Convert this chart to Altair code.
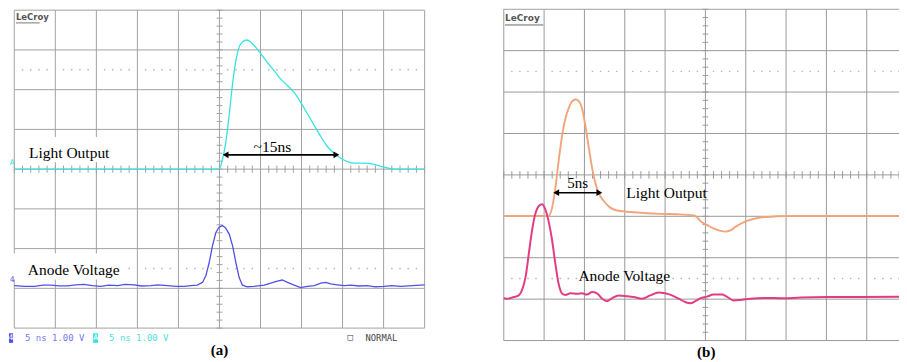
import altair as alt
import pandas as pd
import numpy as np

# ---------------- data (grid divisions: x 0..10, y -4..4) ----------------
a_light_x = [0, 4.99, 5.07, 5.15, 5.24, 5.32, 5.40, 5.48, 5.56, 5.67, 5.76, 5.88, 6.01, 6.17, 6.33,
             6.49, 6.66, 6.82, 6.98, 7.14, 7.31, 7.47, 7.63, 7.79, 7.95, 8.12, 8.28, 8.52, 8.77,
             8.93, 9.09, 9.25, 10]
a_light_y = [0, 0, 0.23, 0.65, 1.40, 2.15, 2.73, 3.07, 3.20, 3.25, 3.20, 3.07, 2.90, 2.68, 2.48,
             2.27, 2.10, 1.93, 1.68, 1.40, 1.10, 0.82, 0.57, 0.40, 0.28, 0.19, 0.15, 0.15, 0.12,
             0.07, 0.03, 0, 0]

a_anode_x = [0, 0.25, 0.49, 0.7, 0.89, 1.1, 1.30, 1.5, 1.70, 1.9, 2.11, 2.3, 2.52, 2.7, 2.92, 3.1,
             3.33, 3.5, 3.73, 3.95, 4.14, 4.3, 4.46, 4.59, 4.67, 4.75, 4.83, 4.91, 4.99, 5.07, 5.15,
             5.24, 5.32, 5.40, 5.48, 5.56, 5.68, 5.84, 6.09, 6.25, 6.41, 6.53, 6.66, 6.82, 6.98,
             7.14, 7.31, 7.47, 7.59, 7.71, 7.87, 8.05, 8.2, 8.4, 8.6, 8.8, 9.01, 9.2, 9.42, 9.7, 10]
a_anode_y = [-2.93, -2.95, -2.95, -2.92, -2.92, -2.94, -2.94, -2.91, -2.90, -2.93, -2.95, -2.92,
             -2.93, -2.90, -2.91, -2.94, -2.93, -2.91, -2.93, -2.95, -2.95, -2.93, -2.92, -2.85,
             -2.68, -2.35, -1.93, -1.60, -1.46, -1.42, -1.48, -1.64, -1.93, -2.35, -2.73, -2.92,
             -2.96, -2.95, -2.92, -2.87, -2.82, -2.79, -2.85, -2.92, -2.98, -2.95, -2.93, -2.87,
             -2.85, -2.89, -2.91, -2.93, -2.92, -2.94, -2.93, -2.96, -2.95, -2.93, -2.95, -2.93, -2.91]

b_light_x = [0, 0.58, 1.11, 1.20, 1.28, 1.36, 1.45, 1.53, 1.61, 1.69, 1.78, 1.86, 1.94, 2.02, 2.11,
             2.19, 2.27, 2.35, 2.48, 2.64, 2.81, 3.06, 3.47, 3.88, 4.29, 4.71, 4.79, 4.87, 5.04,
             5.20, 5.37, 5.49, 5.62, 5.78, 6.03, 6.36, 6.77, 7.18, 10.1]
b_light_y = [-0.99, -0.99, -0.99, -0.79, -0.31, 0.33, 0.97, 1.37, 1.61, 1.77, 1.82, 1.78, 1.61,
             1.21, 0.65, 0.17, -0.19, -0.43, -0.63, -0.79, -0.86, -0.89, -0.92, -0.94, -0.95,
             -0.98, -1.02, -1.11, -1.21, -1.29, -1.35, -1.37, -1.34, -1.23, -1.11, -1.03, -1.0,
             -0.99, -0.99]

b_anode_x = [0, 0.08, 0.25, 0.37, 0.45, 0.54, 0.62, 0.70, 0.78, 0.87, 0.95, 1.03, 1.11, 1.20, 1.28,
             1.36, 1.45, 1.53, 1.65, 1.82, 1.94, 2.06, 2.19, 2.31, 2.44, 2.56, 2.68, 2.85, 3.06,
             3.22, 3.43, 3.63, 3.84, 4.0, 4.17, 4.34, 4.50, 4.62, 4.75, 4.87, 5.04, 5.20, 5.41,
             5.53, 5.70, 5.86, 6.11, 6.52, 6.94, 7.35, 8.01, 8.84, 10.1]
b_anode_y = [-2.98, -2.99, -2.95, -2.91, -2.79, -2.47, -1.91, -1.35, -0.95, -0.75, -0.71, -0.83,
             -1.11, -1.59, -2.15, -2.63, -2.87, -2.90, -2.86, -2.87, -2.86, -2.89, -2.83, -2.86,
             -2.99, -3.05, -2.98, -2.91, -2.93, -2.95, -2.99, -2.91, -2.84, -2.86, -2.91, -2.99,
             -3.07, -3.10, -3.05, -2.98, -2.94, -2.89, -2.89, -2.94, -3.03, -3.02, -2.99, -2.97,
             -2.98, -2.96, -2.95, -2.95, -2.94]

# ---------------- layout ----------------
H = 346
WA, WB = 452, 439
xa = alt.Scale(domain=[-0.129, 10.874], nice=False, zero=False)
ya = alt.Scale(domain=[-4.647, 4.05], nice=False, zero=False)
xb = alt.Scale(domain=[-1.073, 9.80], nice=False, zero=False)
yb = alt.Scale(domain=[-4.32, 4.025], nice=False, zero=False)

SERIF = '"Liberation Serif", "Times New Roman", Times, serif'
MONO = '"DejaVu Sans Mono", monospace'


def enc(xs, ys, two=False):
    e = dict(x=alt.X("x:Q", scale=xs, axis=None), y=alt.Y("y:Q", scale=ys, axis=None))
    if two:
        e.update(x2=alt.X2("x2:Q"), y2=alt.Y2("y2:Q"))
    return e


def grid(xs, ys, color):
    rows = []
    for i in range(11):
        rows.append(dict(x=i, x2=i, y=-4, y2=4))
    for j in range(-4, 5):
        rows.append(dict(x=0, x2=10, y=j, y2=j))
    for k in np.arange(-4, 4.01, 0.2):
        rows.append(dict(x=4.93, x2=5.07, y=k, y2=k))
    for k in np.arange(0, 10.01, 0.2):
        rows.append(dict(x=k, x2=k, y=-0.09, y2=0.09))
    g = alt.Chart(pd.DataFrame(rows)).mark_rule(color=color, strokeWidth=1, clip=True).encode(
        **enc(xs, ys, True))
    dots = []
    for yy in (-2.5, 2.5):
        for k in np.arange(0, 10.01, 0.2):
            if abs(k - round(k)) > 0.05:
                dots.append(dict(x=k, y=yy))
    d = alt.Chart(pd.DataFrame(dots)).mark_square(color="#b4b4b4", size=2, opacity=1, clip=True).encode(
        **enc(xs, ys))
    return [g, d]


def trace(xs, ys, xv, yv, color, width, interp):
    df = pd.DataFrame({"x": xv, "y": yv, "o": range(len(xv))})
    return alt.Chart(df).mark_line(color=color, strokeWidth=width, interpolate=interp, clip=True).encode(
        **enc(xs, ys), order="o:Q")


def text(xs, ys, rows, **kw):
    return alt.Chart(pd.DataFrame(rows)).mark_text(**kw).encode(**enc(xs, ys), text="t:N")


def arrow(xs, ys, x0, x1, yv):
    r = alt.Chart(pd.DataFrame([dict(x=x0, x2=x1, y=yv, y2=yv)])).mark_rule(
        color="black", strokeWidth=1.6).encode(**enc(xs, ys, True))
    pl = alt.Chart(pd.DataFrame([dict(x=x0, y=yv)])).mark_point(
        shape="triangle-left", filled=True, color="black", size=45, opacity=1).encode(**enc(xs, ys))
    pr = alt.Chart(pd.DataFrame([dict(x=x1, y=yv)])).mark_point(
        shape="triangle-right", filled=True, color="black", size=45, opacity=1).encode(**enc(xs, ys))
    return [r, pl, pr]


def box(xs, ys, x0, x1, y0, y1, color):
    return alt.Chart(pd.DataFrame([dict(x=x0, x2=x1, y=y0, y2=y1)])).mark_rect(color=color).encode(
        **enc(xs, ys, True))


# ---------------- panel (a) ----------------
layers_a = grid(xa, ya, "#a2a2a2")
layers_a += [
    box(xa, ya, 0.28, 2.4, 0.18, 0.81, "white"),
    box(xa, ya, -0.03, 2.65, -2.12, -2.78, "white"),
    trace(xa, ya, a_anode_x, a_anode_y, "#5050e6", 1.3, "linear"),
    trace(xa, ya, a_light_x, a_light_y, "#35e3e3", 1.3, "monotone"),
    text(xa, ya, [dict(x=0.04, y=3.84, t="LeCroy")], font="DejaVu Sans", fontSize=8.5,
         color="#555555", align="left", fontWeight="bold"),
    alt.Chart(pd.DataFrame([dict(x=0.04, x2=0.62, y=3.68, y2=3.68)])).mark_rule(
        color="#777777", strokeWidth=1).encode(**enc(xa, ya, True)),
    text(xa, ya, [dict(x=0.36, y=0.41, t="Light Output"), dict(x=0.33, y=-2.54, t="Anode Voltage")],
         font=SERIF, fontSize=15.5, color="black", align="left", baseline="middle"),
    text(xa, ya, [dict(x=6.29, y=0.56, t="~15ns")], font=SERIF, fontSize=15.5, color="black",
         align="center", baseline="middle"),
    text(xa, ya, [dict(x=-0.05, y=0.16, t="A")], font=MONO, fontSize=8, color="#35e3e3",
         align="center", baseline="middle"),
    text(xa, ya, [dict(x=-0.05, y=-2.8, t="4")], font=MONO, fontSize=8, color="#5050e6",
         align="center", baseline="middle"),
    box(xa, ya, -0.13, -0.03, -4.13, -4.37, "#5050e6"),
    box(xa, ya, 1.92, 2.04, -4.13, -4.37, "#35e3e3"),
    text(xa, ya, [dict(x=-0.08, y=-4.25, t="4"), dict(x=1.98, y=-4.25, t="A")], font=MONO,
         fontSize=8, color="white", align="center", baseline="middle"),
    text(xa, ya, [dict(x=0.26, y=-4.25, t="5 ns 1.00 V")], font=MONO, fontSize=9,
         color="#7878f0", align="left", baseline="middle"),
    text(xa, ya, [dict(x=2.31, y=-4.25, t="5 ns 1.00 V")], font=MONO, fontSize=9,
         color="#50e0e0", align="left", baseline="middle"),
    text(xa, ya, [dict(x=8.12, y=-4.22, t="\u25a1"), dict(x=8.56, y=-4.25, t="NORMAL")], font=MONO,
         fontSize=8.8, color="#444444", align="left", baseline="middle"),
    text(xa, ya, [dict(x=5.0, y=-4.54, t="(a)")], font=SERIF, fontSize=15, fontWeight="bold",
         color="black", align="center", baseline="middle"),
]
layers_a += arrow(xa, ya, 5.15, 7.85, 0.36)
panel_a = alt.layer(*layers_a).properties(width=WA, height=H)

# ---------------- panel (b) ----------------
layers_b = grid(xb, yb, "#9a9a9a")
layers_b += [
    trace(xb, yb, b_light_x, b_light_y, "#f2a57a", 1.9, "monotone"),
    trace(xb, yb, b_anode_x, b_anode_y, "#e23d84", 2.0, "monotone"),
    text(xb, yb, [dict(x=0.03, y=3.8, t="LeCroy")], font="DejaVu Sans", fontSize=9,
         color="#555555", align="left", fontWeight="bold"),
    alt.Chart(pd.DataFrame([dict(x=0.03, x2=0.98, y=3.62, y2=3.62)])).mark_rule(
        color="#666666", strokeWidth=1).encode(**enc(xb, yb, True)),
    text(xb, yb, [dict(x=3.04, y=-0.44, t="Light Output"), dict(x=1.85, y=-2.44, t="Anode Voltage")],
         font=SERIF, fontSize=15.5, color="black", align="left", baseline="middle"),
    text(xb, yb, [dict(x=1.83, y=-0.2, t="5ns")], font=SERIF, fontSize=15, color="black",
         align="center", baseline="middle"),
    text(xb, yb, [dict(x=5.02, y=-4.27, t="(b)")], font=SERIF, fontSize=15, fontWeight="bold",
         color="black", align="center", baseline="middle"),
]
layers_b += arrow(xb, yb, 1.3, 2.37, -0.43)
panel_b = alt.layer(*layers_b).properties(width=WB, height=H)

chart = alt.hconcat(panel_a, panel_b, spacing=0).properties(
    padding=0, background="white").configure_view(stroke=None, strokeWidth=0)

chart.save("out.html", embed_options={"renderer": "svg", "actions": False})
